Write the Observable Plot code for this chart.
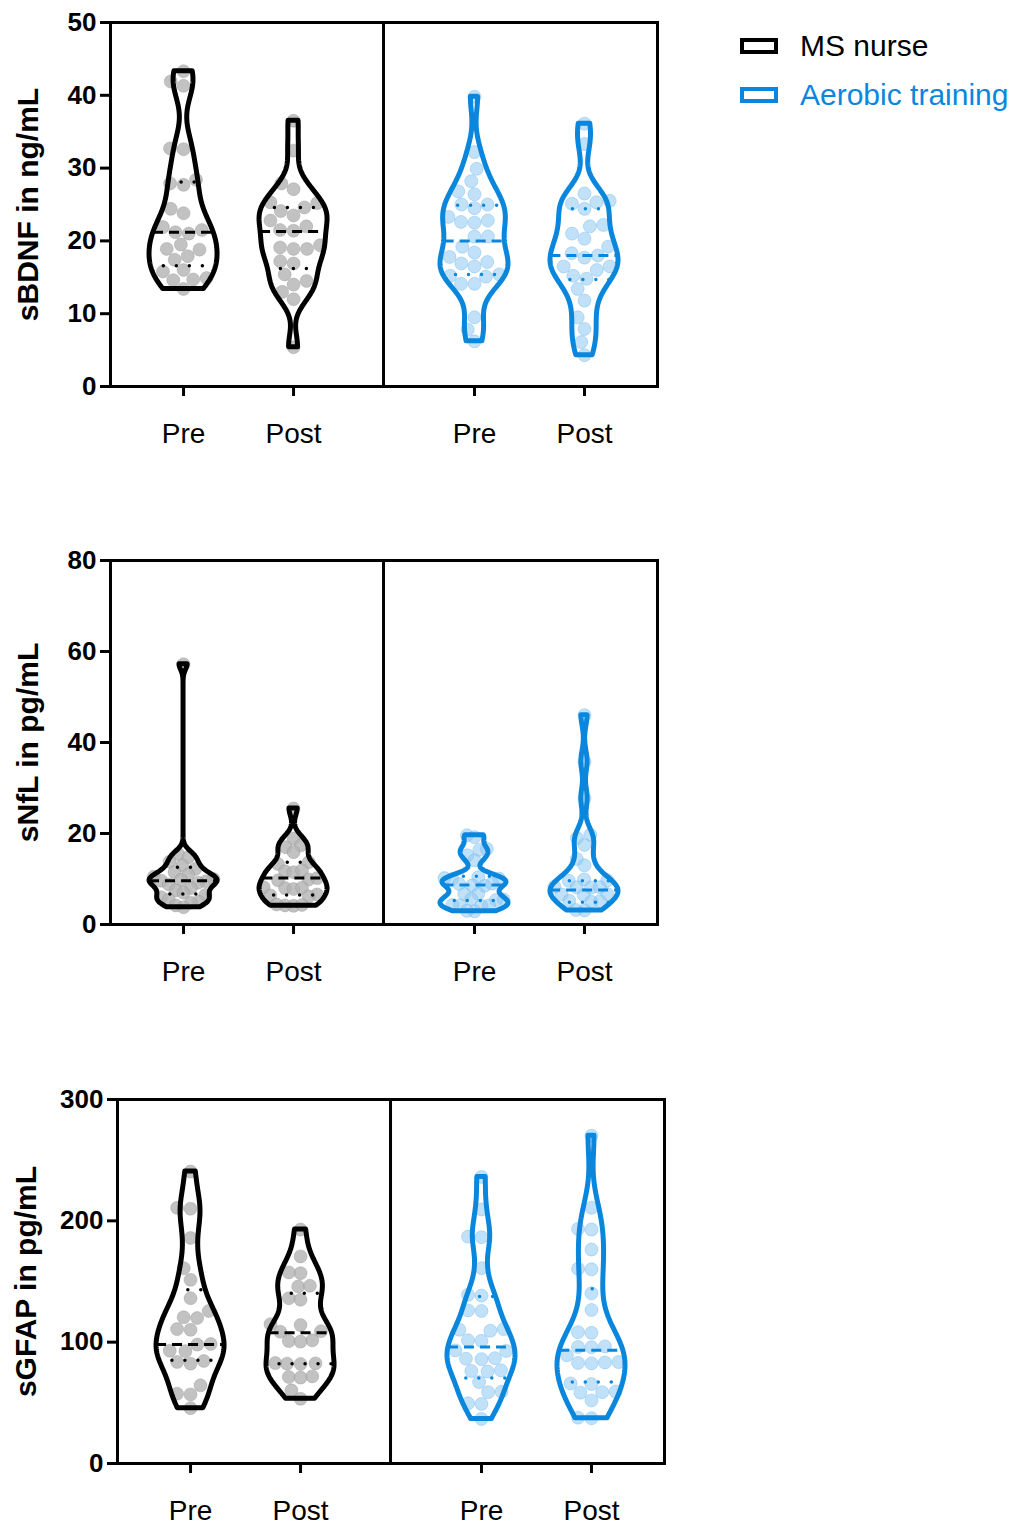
<!DOCTYPE html>
<html><head><meta charset="utf-8">
<script src="https://cdn.jsdelivr.net/npm/d3@7"></script>
<script src="https://cdn.jsdelivr.net/npm/@observablehq/plot@0.6"></script>
<style>
body{margin:0;background:#fff;font-family:"Liberation Sans",Arial,sans-serif;}
#root{position:relative;width:1013px;height:1525px;overflow:hidden;}
.panel{position:absolute;left:0;}
.leg{position:absolute;left:740px;display:flex;align-items:center;font-size:30px;white-space:nowrap;}
.leg .box{width:30px;height:8px;border:4px solid;margin-right:22px;}
</style></head><body><div id="root"></div>
<script>
// ---------- categories ----------
const groups = ["MS nurse", "Aerobic training"];
const times = ["Pre", "Post"];
const groupColors = ["#000000", "#0a87dd"];

// ---------- panel 1: sBDNF (ng/mL) ----------
const bdnfMsPre = [43.3, 41.3, 41.9, 32.7, 32.6, 28.4, 27.7, 27.9, 24.4, 23.8, 21.9, 21.0, 21.5, 21.2, 19.5, 18.8, 18.9, 17.4, 17.9, 16.0, 15.8, 14.9, 14.7, 14.6, 13.4];
const bdnfMsPost = [36.5, 32.4, 27.9, 27.1, 25.3, 25.2, 24.6, 24.1, 23.5, 22.8, 22.0, 21.4, 21.5, 18.9, 18.9, 19.1, 19.4, 16.9, 17.2, 15.4, 14.0, 14.5, 13.0, 12.0, 5.4];
const bdnfAePre = [39.8, 32.2, 29.9, 28.2, 26.4, 26.8, 24.5, 25.0, 25.0, 22.8, 22.6, 22.5, 23.3, 20.6, 20.6, 19.2, 18.4, 17.8, 16.9, 17.1, 16.5, 15.1, 15.4, 14.1, 14.1, 15.2, 9.5, 7.8, 6.2];
const bdnfAePost = [36.1, 33.3, 26.5, 25.3, 25.5, 24.4, 25.1, 22.2, 22.0, 21.0, 20.3, 19.2, 18.0, 17.7, 18.3, 16.5, 16.0, 16.5, 14.8, 15.2, 13.4, 11.8, 9.5, 7.9, 6.1, 4.3];
const bdnfMedians = [21.2, 21.3, 20.0, 18.0];
const bdnfQ1 = [16.6, 16.2, 15.4, 14.7];
const bdnfQ3 = [28.1, 24.6, 24.9, 24.4];
const bdnfTicks = [0, 10, 20, 30, 40, 50];

// ---------- panel 2: sNfL (pg/mL) ----------
const nflMsPre = [57.2, 15.5, 14.8, 13.8, 13.0, 12.2, 11.5, 11.0, 10.5, 10.0, 9.8, 9.6, 9.5, 9.2, 8.8, 8.0, 7.5, 7.0, 6.5, 6.0, 5.5, 5.0, 4.8, 4.2, 3.8];
const nflMsPost = [25.5, 18.9, 17.4, 17.0, 15.9, 13.7, 13.3, 11.7, 11.5, 11.9, 9.7, 9.9, 10.2, 8.0, 8.2, 7.8, 8.1, 6.4, 6.6, 6.2, 4.2, 4.4, 4.1, 4.3];
const nflAePre = [19.6, 19.2, 16.4, 16.6, 15.2, 14.1, 10.2, 10.0, 10.4, 10.1, 8.9, 9.0, 8.6, 8.5, 6.7, 6.8, 5.5, 5.6, 5.4, 4.2, 4.3, 4.1, 4.2, 2.9, 3.0];
const nflAePost = [46.0, 35.8, 27.7, 19.7, 19.0, 17.5, 14.4, 13.0, 9.7, 9.9, 9.6, 8.2, 8.3, 8.1, 8.2, 6.6, 6.7, 6.5, 5.1, 5.2, 5.0, 3.1, 3.2];
const nflMedians = [9.6, 10.2, 8.7, 7.6];
const nflQ1 = [6.7, 6.5, 5.3, 4.9];
const nflQ3 = [12.6, 13.7, 10.6, 9.6];
const nflTicks = [0, 20, 40, 60, 80];

// ---------- panel 3: sGFAP (pg/mL) ----------
const gfapMsPre = [240.6, 210.7, 210.0, 185.9, 161.0, 151.4, 136.2, 125.7, 119.9, 120.5, 110.8, 110.2, 98.0, 98.5, 92.6, 93.0, 82.3, 83.7, 84.5, 64.4, 56.9, 57.5, 45.6];
const gfapMsPost = [192.8, 170.7, 156.9, 157.5, 145.9, 146.5, 136.2, 135.0, 114.1, 114.8, 108.6, 109.0, 100.9, 101.5, 100.5, 82.3, 82.8, 82.0, 82.5, 71.3, 71.8, 70.8, 60.3, 53.3];
const gfapAePre = [236.2, 209.4, 186.5, 187.0, 161.0, 138.4, 139.0, 125.7, 126.2, 110.2, 110.8, 109.5, 101.1, 101.6, 92.8, 93.2, 86.4, 86.8, 86.0, 76.2, 76.8, 75.8, 67.1, 58.8, 59.2, 49.1, 49.6, 36.7];
const gfapAePost = [270.2, 210.8, 192.8, 193.3, 176.3, 160.0, 160.5, 140.3, 126.5, 107.7, 108.2, 96.1, 96.5, 95.8, 89.2, 82.9, 83.3, 82.5, 83.6, 65.5, 66.0, 58.8, 59.3, 58.4, 52.0, 37.3, 37.8];
const gfapMedians = [98.1, 107.7, 96.1, 93.4];
const gfapQ1 = [85.1, 82.3, 70.4, 67.1];
const gfapQ3 = [143.1, 140.3, 137.6, 144.0];
const gfapTicks = [0, 100, 200, 300];

const panels = [
  {label: "sBDNF in ng/mL", series: [bdnfMsPre, bdnfMsPost, bdnfAePre, bdnfAePost], med: bdnfMedians, q1: bdnfQ1, q3: bdnfQ3, ticks: bdnfTicks},
  {label: "sNfL in pg/mL", series: [nflMsPre, nflMsPost, nflAePre, nflAePost], med: nflMedians, q1: nflQ1, q3: nflQ3, ticks: nflTicks},
  {label: "sGFAP in pg/mL", series: [gfapMsPre, gfapMsPost, gfapAePre, gfapAePost], med: gfapMedians, q1: gfapQ1, q3: gfapQ3, ticks: gfapTicks}
];

// ---------- layout ----------
const layout = [
  {top: 0, left: 110, labelDx: -82},
  {top: 538, left: 110, labelDx: -82},
  {top: 1077, left: 117, labelDx: -91}
];
const plotW = 547, plotH = 364, svgW = 700, mTop = 22, mBottom = 90;
const pxPerUnit = 110;                 // x-scale unit in px
const xMax = plotW / pxPerUnit;
const groupStart = [0.664, 3.309];
const divider = 2.482;
const maxHalf = 34 / pxPerUnit;        // violin max half width
const dotR = 6.5;
const swarmLimit = 30;                 // px, dots are squeezed inside this half width
const dotStyle = [
  {fill: "#b3b3b3", fillOpacity: 0.8, stroke: "#8f8f8f", strokeOpacity: 0.35},
  {fill: "#8ec8f2", fillOpacity: 0.55, stroke: "#5fb0ea", strokeOpacity: 0.35}
];

function silverman(vals) {
  const n = vals.length;
  const sd = d3.deviation(vals);
  const iqr = d3.quantile(vals.slice().sort(d3.ascending), 0.75) - d3.quantile(vals.slice().sort(d3.ascending), 0.25);
  const a = Math.min(sd, iqr / 1.34);
  return 0.9 * a * Math.pow(n, -0.2);
}
function density(vals, h, y) {
  let s = 0;
  for (const v of vals) { const u = (y - v) / h; s += Math.exp(-0.5 * u * u); }
  return s;
}
function swarm(vals, pxPerY) {
  const pts = vals.map(v => ({v, py: v * pxPerY, px: 0}));
  const order = pts.slice().sort((a, b) => a.v - b.v);
  const placed = [];
  const D = 2 * dotR + 0.5;
  for (const p of order) {
    const ints = [];
    for (const q of placed) {
      const dy = Math.abs(q.py - p.py);
      if (dy < D) { const w = Math.sqrt(D * D - dy * dy); ints.push([q.px - w, q.px + w]); }
    }
    const cands = [0];
    for (const [a, b] of ints) cands.push(a, b);
    cands.sort((a, b) => Math.abs(a) - Math.abs(b) || a - b);
    let chosen = 0;
    for (const c of cands) {
      if (ints.every(([a, b]) => c <= a + 1e-6 || c >= b - 1e-6)) { chosen = c; break; }
    }
    p.px = chosen;
    placed.push(p);
  }
  const widest = d3.max(pts, p => Math.abs(p.px));
  if (widest > swarmLimit) pts.forEach(p => { p.px *= swarmLimit / widest; });
  return pts;
}

const root = document.getElementById("root");

panels.forEach((P, pi) => {
  const L = layout[pi];
  const yMax = d3.max(P.ticks);
  const pxPerY = plotH / yMax;
  const centers = [];
  const labelOf = new Map();
  const marks = [];
  P.series.forEach((vals, si) => {
    const g = Math.floor(si / 2), t = si % 2;
    const c = groupStart[g] + t;
    centers.push(c);
    labelOf.set(c, times[t]);
    const col = groupColors[g];
    // KDE
    const h = silverman(vals) * 0.72;
    const lo = d3.min(vals), hi = d3.max(vals);
    const N = 200;
    const grid = d3.range(N + 1).map(k => lo + (hi - lo) * k / N);
    const dens = grid.map(y => density(vals, h, y));
    const dmax = d3.max(dens);
    const halfAt = y => density(vals, h, y) / dmax * maxHalf;
    const violin = grid.map((y, k) => ({y, x1: c - dens[k] / dmax * maxHalf, x2: c + dens[k] / dmax * maxHalf}));
    const dots = swarm(vals, pxPerY).map(p => ({x: c + p.px / pxPerUnit, y: p.v}));
    const rule = v => [{y: v, x1: c - halfAt(v), x2: c + halfAt(v)}];
    marks.push(Plot.dot(dots, {x: "x", y: "y", r: dotR, ...dotStyle[g], strokeWidth: 1}));
    marks.push(Plot.ruleY(rule(P.med[si]), {y: "y", x1: "x1", x2: "x2", stroke: col, strokeWidth: 3, strokeDasharray: "10,6"}));
    marks.push(Plot.ruleY(rule(P.q1[si]), {y: "y", x1: "x1", x2: "x2", stroke: col, strokeWidth: 3.5, strokeDasharray: "0,13", strokeLinecap: "round"}));
    marks.push(Plot.ruleY(rule(P.q3[si]), {y: "y", x1: "x1", x2: "x2", stroke: col, strokeWidth: 3.5, strokeDasharray: "0,13", strokeLinecap: "round"}));
    marks.push(Plot.areaX(violin, {y: "y", x1: "x1", x2: "x2", fill: "none", stroke: col, strokeWidth: 5, strokeLinejoin: "round"}));
  });
  marks.push(Plot.frame({stroke: "black", strokeWidth: 3}));
  marks.push(Plot.ruleX([divider], {stroke: "black", strokeWidth: 3}));
  marks.push(Plot.axisY({ticks: P.ticks, tickSize: 10, tickPadding: 4, fontSize: 26, fontWeight: "bold", strokeWidth: 3, label: null, tickFormat: d => String(d)}));
  marks.push(Plot.axisX({ticks: centers, tickFormat: d => labelOf.get(d), tickSize: 10, tickPadding: 27, fontSize: 28, strokeWidth: 3, label: null}));
  marks.push(Plot.text([P.label], {text: d => d, frameAnchor: "left", rotate: -90, dx: L.labelDx, fontSize: 30, fontWeight: "bold", textAnchor: "middle"}));

  const chart = Plot.plot({
    width: svgW, height: mTop + plotH + mBottom,
    marginTop: mTop, marginBottom: mBottom, marginLeft: L.left, marginRight: svgW - L.left - plotW,
    x: {domain: [0, xMax]},
    y: {domain: [0, yMax]},
    style: {fontFamily: "'Liberation Sans', Arial, sans-serif", color: "black", background: "white", overflow: "visible"},
    marks
  });
  chart.classList.add("panel");
  chart.style.top = L.top + "px";
  chart.style.position = "absolute";
  root.appendChild(chart);
});

// legend
groups.forEach((g, i) => {
  const d = document.createElement("div");
  d.className = "leg";
  d.style.top = (29 + i * 49) + "px";
  d.style.color = groupColors[i];
  d.innerHTML = `<span class="box" style="border-color:${groupColors[i]}"></span><span>${g}</span>`;
  root.appendChild(d);
});
</script>
</body></html>
